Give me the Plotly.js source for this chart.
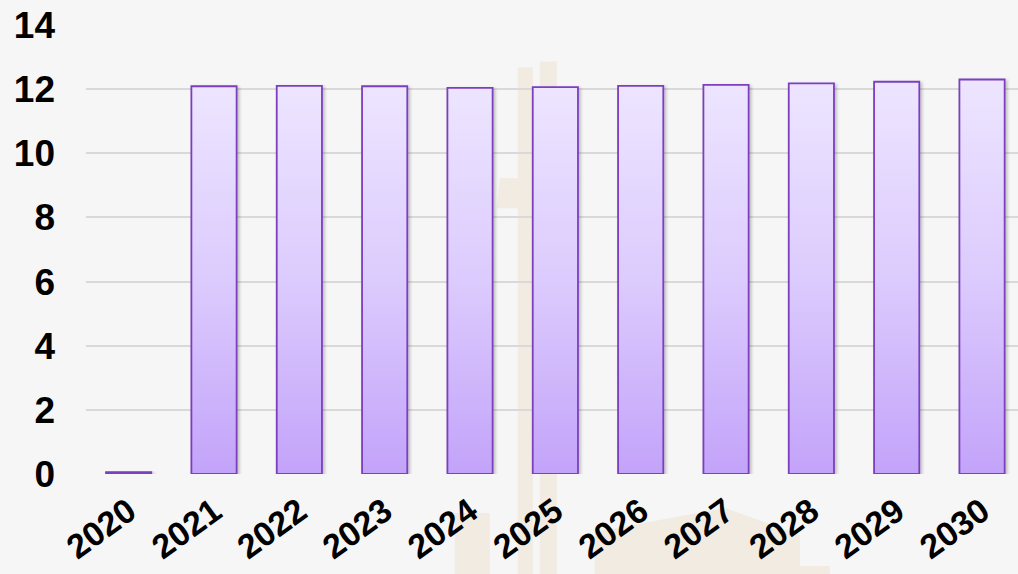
<!DOCTYPE html>
<html>
<head>
<meta charset="utf-8">
<script src="https://cdn.plot.ly/plotly-3.0.1.min.js"></script>
<style>
html,body{margin:0;padding:0;background:#f6f6f6;overflow:hidden;}
#chart{width:1018px;height:574px;}
</style>
</head>
<body>
<div id="chart"></div>
<script>
// Data
const years = ["2020","2021","2022","2023","2024","2025","2026","2027","2028","2029","2030"];
const values = [0.06, 12.09, 12.10, 12.09, 12.04, 12.06, 12.10, 12.13, 12.18, 12.23, 12.30];
const yTicks = [0, 2, 4, 6, 8, 10, 12, 14];

// layout geometry
const W = 1018, H = 574;
const mL = 86.4, mR = 0, mT = 24.5, mB = 100;
const plotW = W - mL - mR, plotH = H - mT - mB;
const unit = 85.3; // px per category
const xMax = -0.5 + plotW / unit;

function px(x) { return (x - mL) / plotW; }
function py(y) { return (H - mB - y) / plotH; }
function polyPath(pts) {
  return pts.map((p, i) => (i ? 'L' : 'M') + px(p[0]).toFixed(4) + ',' + py(p[1]).toFixed(4)).join(' ') + ' Z';
}
const wm = '#f1ebe1';
const watermark = [
  [[518,67],[533,67],[533,574],[518,574]],
  [[540,61],[557,61],[557,574],[540,574]],
  [[500,178],[520,178],[520,208],[497,208]],
  [[455,513],[490,513],[490,574],[455,574]],
  [[595,574],[595,532],[725,508],[800,535],[800,566],[830,566],[830,574]]
].map(pts => ({
  type: 'path', xref: 'paper', yref: 'paper', layer: 'below',
  path: polyPath(pts), fillcolor: wm, line: {width: 0}
}));

const trace = {
  type: 'bar',
  x: years,
  y: values,
  width: 0.53,
  marker: {color: '#d6c2fd', line: {color: '#7b3fbf', width: 1.8}},
  hoverinfo: 'x+y'
};

const layout = {
  width: W, height: H,
  margin: {l: mL, r: mR, t: mT, b: mB, pad: 0},
  paper_bgcolor: '#f6f6f6',
  plot_bgcolor: 'rgba(0,0,0,0)',
  showlegend: false,
  font: {family: 'Liberation Sans, Arial, sans-serif', color: '#000'},
  xaxis: {
    type: 'category',
    range: [-0.5, xMax],
    tickangle: -36,
    tickfont: {size: 34, family: 'Liberation Sans, Arial, sans-serif', weight: 'bold'},
    showgrid: false, zeroline: false, showline: false, ticks: '',
    ticklabelstandoff: 10
  },
  yaxis: {
    range: [0, 14],
    tickvals: yTicks,
    ticktext: yTicks.map(String),
    tickfont: {size: 37, family: 'Liberation Sans, Arial, sans-serif', weight: 'bold'},
    gridcolor: '#d9d9d9', gridwidth: 2,
    zeroline: false, showline: false, ticks: '',
    ticklabelstandoff: 30
  },
  shapes: watermark
};

Plotly.newPlot('chart', [trace], layout, {displayModeBar: false, staticPlot: true}).then(gd => {
  const svg = gd.querySelector('svg.main-svg');
  const ns = 'http://www.w3.org/2000/svg';
  let defs = svg.querySelector('defs');
  if (!defs) { defs = document.createElementNS(ns, 'defs'); svg.insertBefore(defs, svg.firstChild); }
  const grad = document.createElementNS(ns, 'linearGradient');
  grad.setAttribute('id', 'barGrad');
  grad.setAttribute('x1', '0'); grad.setAttribute('y1', '0');
  grad.setAttribute('x2', '0'); grad.setAttribute('y2', '1');
  [['0', '#ede5ff'], ['0.5', '#dccbfd'], ['1', '#c3a3fa']].forEach(([o, c]) => {
    const s = document.createElementNS(ns, 'stop');
    s.setAttribute('offset', o); s.setAttribute('stop-color', c);
    grad.appendChild(s);
  });
  defs.appendChild(grad);
  const filt = document.createElementNS(ns, 'filter');
  filt.setAttribute('id', 'barShadow');
  filt.setAttribute('x', '-20%'); filt.setAttribute('y', '-5%');
  filt.setAttribute('width', '150%'); filt.setAttribute('height', '120%');
  const ds = document.createElementNS(ns, 'feDropShadow');
  ds.setAttribute('dx', '2'); ds.setAttribute('dy', '1.5');
  ds.setAttribute('stdDeviation', '1.5');
  ds.setAttribute('flood-color', '#000'); ds.setAttribute('flood-opacity', '0.22');
  filt.appendChild(ds);
  defs.appendChild(filt);
  gd.querySelectorAll('.bars .point path').forEach(p => {
    p.style.fill = 'url(#barGrad)';
    p.setAttribute('filter', 'url(#barShadow)');
  });
});
</script>
</body>
</html>
